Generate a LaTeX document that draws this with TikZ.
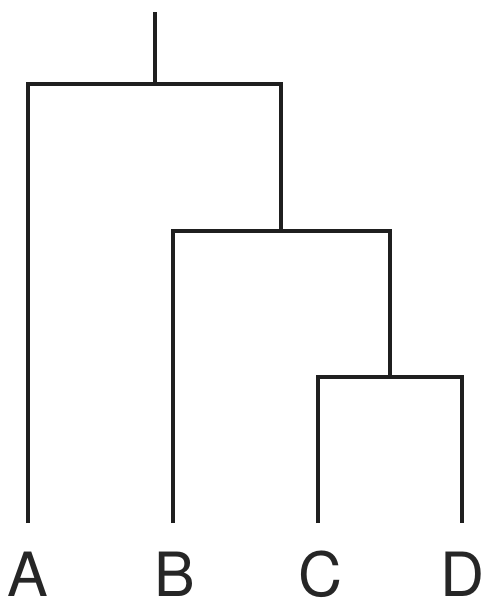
\documentclass[tikz,border=0pt]{standalone}
\usepackage{fontspec}
\setmainfont{TeX Gyre Heros}
\begin{document}
\begin{tikzpicture}[x=1pt,y=-1pt,
  branch/.style={draw=black!88,line width=3.8pt,line join=miter,line cap=butt},
  leaflabel/.style={anchor=base,inner sep=0pt,text=black!85,font=\fontsize{61}{61}\selectfont}]
\useasboundingbox (0,0) rectangle (488,608);
% leaf labels
\node[leaflabel] (A) at (28,596) {A};
\node[leaflabel] (B) at (175,596) {B};
\node[leaflabel] (C) at (321,596) {C};
\node[leaflabel] (D) at (463,596) {D};
% leaf tips
\coordinate (a) at (28,523);
\coordinate (b) at (173,523);
\coordinate (c) at (318,523);
\coordinate (d) at (462,523);
% internal nodes
\coordinate (top) at (155,12);
\coordinate (n1) at (155,84);
\coordinate (n2) at (281,231);
\coordinate (n3) at (390,377);
% branches
\draw[branch] (top) -- (n1);
\draw[branch] (a) |- (n1) -| (n2);
\draw[branch] (b) |- (n2) -| (n3);
\draw[branch] (c) |- (n3) -| (d);
\end{tikzpicture}
\end{document}
